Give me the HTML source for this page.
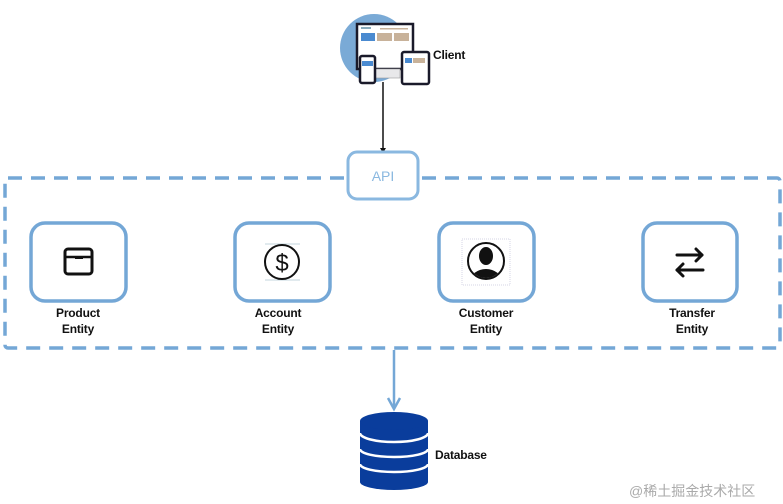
<!DOCTYPE html>
<html><head><meta charset="utf-8"><style>
html,body{margin:0;padding:0;background:#fff;}
body{width:783px;height:504px;position:relative;overflow:hidden;font-family:"Liberation Sans","Noto Sans CJK SC",sans-serif;}
.lbl{position:absolute;font-size:12px;color:#111;text-align:center;line-height:16px;font-weight:bold;letter-spacing:-0.2px}
</style></head><body>
<svg width="783" height="504" style="position:absolute;left:0;top:0">
  <circle cx="374" cy="48" r="34" fill="#7aaad6"/>
  <rect x="357" y="24" width="56" height="45" fill="#fff" stroke="#1a1a2a" stroke-width="2.5"/>
  <rect x="361" y="33" width="14" height="8" fill="#4a8ad0"/>
  <rect x="377" y="33" width="15" height="8" fill="#c8b29a"/>
  <rect x="394" y="33" width="15" height="8" fill="#c8b29a"/>
  <rect x="361" y="27" width="10" height="2" fill="#8ab"/>
  <rect x="380" y="28" width="28" height="1.5" fill="#c8b29a"/>
  <rect x="372" y="69" width="28" height="9" fill="#e8e8ea" stroke="#999" stroke-width="0.6"/>
  <rect x="402" y="52" width="27" height="32" rx="2" fill="#fff" stroke="#1a1a2a" stroke-width="2.5"/>
  <rect x="405" y="58" width="7" height="5" fill="#4a8ad0"/>
  <rect x="413" y="58" width="12" height="5" fill="#c8b29a"/>
  <rect x="360" y="56" width="15" height="27" rx="2" fill="#fff" stroke="#1a1a2a" stroke-width="2.5"/>
  <rect x="362" y="61" width="11" height="5" fill="#4a8ad0"/>
  <line x1="383" y1="82" x2="383" y2="150" stroke="#111" stroke-width="1.5"/>
  <polygon points="380,148 386,148 383,153" fill="#111"/>
  <rect x="5" y="178" width="775" height="170" rx="3" fill="none" stroke="#74a7d6" stroke-width="3.5" stroke-dasharray="14 9"/>
  <rect x="348" y="152" width="70" height="47" rx="9" fill="#fff" stroke="#8ab8e0" stroke-width="3"/>
  <text x="383" y="181" font-size="14" fill="#8ab8e0" text-anchor="middle" font-family="Liberation Sans, sans-serif">API</text>
  <g fill="#fff" stroke="#74a7d6" stroke-width="3.5">
    <rect x="31" y="223" width="95" height="78" rx="14"/>
    <rect x="235" y="223" width="95" height="78" rx="14"/>
    <rect x="439" y="223" width="95" height="78" rx="14"/>
    <rect x="643" y="223" width="94" height="78" rx="14"/>
  </g>
  <rect x="65" y="249" width="27" height="25" rx="3" fill="none" stroke="#111" stroke-width="3"/>
  <line x1="65" y1="257" x2="92" y2="257" stroke="#111" stroke-width="2.5"/>
  <rect x="75" y="256" width="8" height="3" fill="#111"/>
  <line x1="265" y1="244" x2="300" y2="244" stroke="#8ab" stroke-width="0.6"/>
  <line x1="265" y1="280" x2="300" y2="280" stroke="#8ab" stroke-width="0.6"/>
  <circle cx="282" cy="262" r="17" fill="none" stroke="#111" stroke-width="2"/>
  <text x="282" y="271" font-size="24" text-anchor="middle" fill="#111" font-family="Liberation Sans, sans-serif">$</text>
  <rect x="462" y="239" width="48" height="46" fill="none" stroke="#aac" stroke-width="0.5" stroke-dasharray="1 1"/>
  <circle cx="486" cy="261" r="18" fill="#fff" stroke="#111" stroke-width="2"/>
  <clipPath id="cc"><circle cx="486" cy="261" r="17"/></clipPath>
  <g clip-path="url(#cc)" fill="#111">
    <ellipse cx="486" cy="256" rx="7" ry="9"/>
    <ellipse cx="486" cy="282" rx="16" ry="13"/>
  </g>
  <g stroke="#111" stroke-width="3" fill="none" stroke-linecap="round" stroke-linejoin="round">
    <line x1="677" y1="255" x2="702" y2="255"/><polyline points="696,249 702,255 696,261"/>
    <line x1="677" y1="270" x2="703" y2="270"/><polyline points="683,264 677,270 683,276"/>
  </g>
  <line x1="394" y1="350" x2="394" y2="408" stroke="#74a7d6" stroke-width="2.5"/>
  <polyline points="388,398 394,409 400,398" fill="none" stroke="#74a7d6" stroke-width="2.5"/>
  <g fill="#0a3d9c">
    <path d="M360,421 L360,482 A34,8 0 0 0 428,482 L428,421 Z"/>
    <ellipse cx="394" cy="421" rx="34" ry="9"/>
  </g>
  <path d="M360,433 A34,9 0 0 0 428,433" fill="none" stroke="#fff" stroke-width="2.5"/>
  <path d="M360,449 A34,8 0 0 0 428,449" fill="none" stroke="#fff" stroke-width="2.5"/>
  <path d="M360,464 A34,8 0 0 0 428,464" fill="none" stroke="#fff" stroke-width="2.5"/>
</svg>
<div class="lbl" style="left:433px;top:47px;text-align:left">Client</div>
<div class="lbl" style="left:28px;top:305px;width:100px">Product<br>Entity</div>
<div class="lbl" style="left:228px;top:305px;width:100px">Account<br>Entity</div>
<div class="lbl" style="left:436px;top:305px;width:100px">Customer<br>Entity</div>
<div class="lbl" style="left:642px;top:305px;width:100px">Transfer<br>Entity</div>
<div class="lbl" style="left:435px;top:447px;text-align:left">Database</div>
<div style="position:absolute;left:629px;top:481px;font-size:14px;color:#aaa;font-family:'Liberation Sans','Noto Sans CJK SC',sans-serif">@稀土掘金技术社区</div>
</body></html>
